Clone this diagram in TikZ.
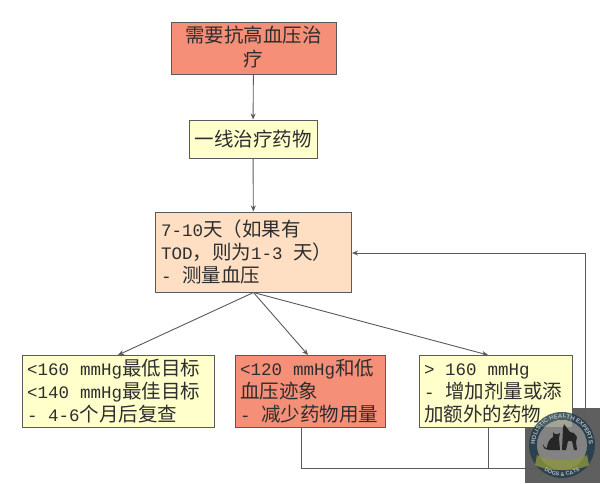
\documentclass[tikz,border=0pt]{standalone}
\usepackage{fontspec}
\setmainfont{Noto Sans CJK SC}
\newfontfamily\cjk{Noto Sans CJK SC}
\newfontfamily\lat{Liberation Mono}
\newfontfamily\logofont{Liberation Sans}
\usetikzlibrary{arrows.meta,decorations.text}
\definecolor{salmon}{HTML}{F58F78}
\definecolor{pale}{HTML}{FFFFCC}
\definecolor{peach}{HTML}{FFDFC4}
\definecolor{edge}{HTML}{5A5A5A}
\definecolor{ink}{HTML}{2E2E2E}
\definecolor{navy}{HTML}{1F3A4A}
\definecolor{olive}{HTML}{8C9440}
\definecolor{squaregrey}{HTML}{5F5F5F}
\newcommand{\lt}[1]{{\lat\fontsize{17.5}{17.5}\selectfont #1}}
\tikzset{
  x=1pt,y=-1pt,
  boxa/.style={draw=edge,line width=1pt,inner sep=0pt},
  txt/.style={inner sep=0pt,anchor=base west,text=ink,font=\cjk\fontsize{19.5}{19.5}\selectfont},
  ctxt/.style={txt,anchor=base},
  link/.style={draw=edge,line width=.9pt},
  arr/.style={link,-{Stealth[length=6pt,width=5pt]}}
}
\begin{document}
\begin{tikzpicture}
\useasboundingbox (0,0) rectangle (600,483);
\fill[white] (0,0) rectangle (600,483);
\fill[squaregrey] (525,408) rectangle (600,483);
\node[boxa,fill=salmon,minimum width=165pt,minimum height=52pt] (need) at (253.5,48) {};
\node[ctxt] (need1) at (253.5,42) {需要抗高血压治};
\node[ctxt] (need2) at (253.5,66) {疗};
\node[boxa,fill=pale,minimum width=128pt,minimum height=38pt] (first) at (253,139) {};
\node[ctxt] (first1) at (253,146) {一线治疗药物};
\node[boxa,fill=peach,minimum width=196pt,minimum height=80pt] (check) at (253.5,252) {};
\node[txt] (check1) at (161,236) {\lt{7-10}天（如果有};
\node[txt] (check2) at (161,259) {\lt{TOD}，则为\lt{1-3 }天）};
\node[txt] (check3) at (161,282) {\lt{- }测量血压};
\node[boxa,fill=pale,minimum width=192pt,minimum height=72pt] (goal) at (118,391.5) {};
\node[txt] (goal1) at (27,375) {\lt{<160}\hspace{11pt}\lt{mmHg}最低目标};
\node[txt] (goal2) at (27,398) {\lt{<140}\hspace{11pt}\lt{mmHg}最佳目标};
\node[txt] (goal3) at (27,421) {\lt{- 4-6}个月后复查};
\node[boxa,fill=salmon,minimum width=150pt,minimum height=72pt] (low) at (310,391.5) {};
\node[txt] (low1) at (240,375) {\lt{<120}\hspace{11pt}\lt{mmHg}和低};
\node[txt] (low2) at (240,398) {血压迹象};
\node[txt] (low3) at (240,421) {\lt{- }减少药物用量};
\node[boxa,fill=pale,minimum width=153pt,minimum height=72pt] (high) at (495.5,391.5) {};
\node[txt] (high1) at (424,375) {\lt{> 160}\hspace{11pt}\lt{mmHg}};
\node[txt] (high2) at (424,398) {\lt{- }增加剂量或添};
\node[txt] (high3) at (424,421) {加额外的药物};
\draw[arr] (need) -- (first);
\draw[arr] (first) -- (check);
\coordinate (jl) at (301.5,468);
\coordinate (jr) at (488,468);
\coordinate (corner) at (585,468);
\coordinate (up) at (585,253);
\draw[arr] (check.south) -- (goal.north);
\draw[arr] (check.south) -- (308,355);
\draw[arr] (check.south) -- (high.north -| jr);
\draw[link] (low.south -| jl) -- (jl) -- (corner) -- (up);
\draw[link] (high.south -| jr) -- (jr);
\draw[arr] (up) -- (check.east |- up);
% logo
\begin{scope}[opacity=.8]
\draw[navy,line width=8pt] (562,445) circle[radius=29pt];
\fill[black!45] (562,445) circle[radius=25pt];
\fill[olive] (537,455) .. controls (550,462) and (574,462) .. (587,455)
  -- (589,465) .. controls (575,472) and (549,472) .. (535,465) -- cycle;
\end{scope}
\fill[black!85] (543,444) .. controls (543,449) and (546,450) .. (549,450)
  -- (560,450) -- (559,438) -- (560,433) -- (558,434) -- (555,434) -- (553,432) -- (553,437)
  .. controls (549,439) and (547,444) .. (547,448) .. controls (545,448) and (544,447) .. (543,444) -- cycle;
\fill[black!85] (562,450) -- (563,428) -- (564,424) -- (567,428) -- (570,432) -- (574,433) -- (577,437) -- (576,442) -- (577,450) -- (574,450) -- (572,441) -- (568,441) -- (566,450) -- cycle;
\path[decorate,decoration={text along path,text align=center,
  text={|\logofont\bfseries\fontsize{6}{6}\selectfont\color{white!65!navy}|HOLISTIC HEALTH EXPERTS}}]
  (536.63,454.23) arc[start angle=200,end angle=-20,radius=27pt];
\path[decorate,decoration={text along path,text align=center,
  text={|\logofont\bfseries\fontsize{5.5}{5.5}\selectfont\color{white!65!navy}|DOGS {\&} CATS}}]
  (544.22,470.39) arc[start angle=235,end angle=305,radius=31pt];
\end{tikzpicture}
\end{document}
